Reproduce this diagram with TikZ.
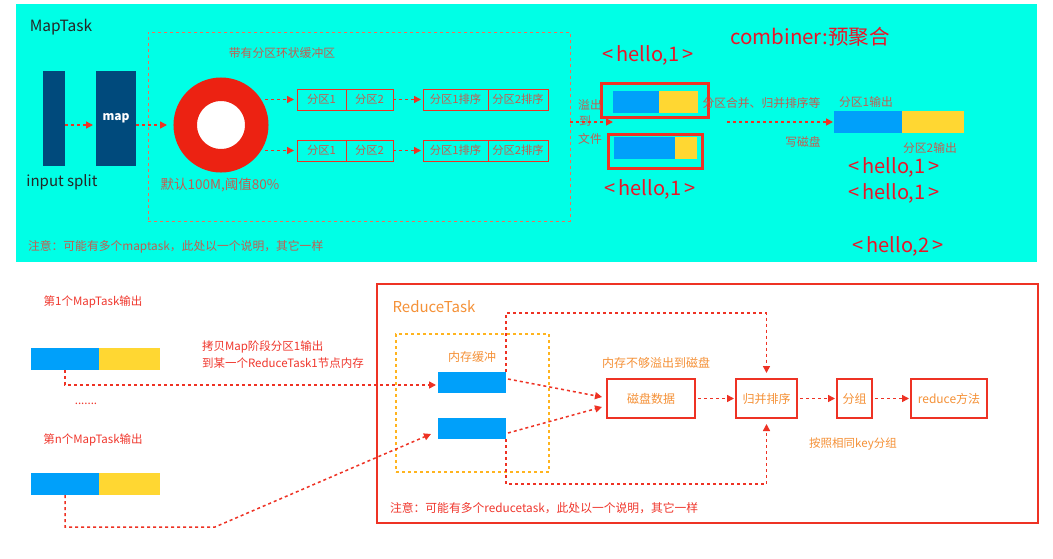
\documentclass[tikz,border=0pt]{standalone}
\usepackage{fontspec}
\setmainfont{Noto Sans CJK SC}
\usetikzlibrary{arrows.meta}
\definecolor{cyanbg}{RGB}{0,255,230}
\definecolor{rline}{RGB}{238,50,36}
\definecolor{mutetxt}{RGB}{196,92,80}
\definecolor{dashsal}{RGB}{240,110,90}
\definecolor{hred}{RGB}{235,20,40}
\definecolor{btxt}{RGB}{240,55,45}
\definecolor{otxt}{RGB}{245,145,55}
\definecolor{ydash}{RGB}{255,180,30}
\definecolor{bblue}{RGB}{0,160,250}
\definecolor{byel}{RGB}{255,215,50}
\definecolor{dblue}{RGB}{0,74,124}
\definecolor{ringred}{RGB}{236,34,18}
\newcommand{\hel}[1]{<\hspace{3pt}hello,#1\hspace{3pt}>}
\begin{document}
\begin{tikzpicture}[x=1pt,y=-1pt,
  every node/.style={inner sep=0pt, outer sep=0pt},
  blu/.style={minimum height=22pt, fill=bblue},
  yel/.style={minimum height=22pt, fill=byel},
  arr/.style={draw=rline, line width=1.5pt, dash pattern=on 3pt off 3pt, -{Triangle[length=7pt,width=7pt]}},
  pbox/.style={draw=rline, line width=0.9pt, minimum height=21pt, font=\fontsize{11.3}{13}\selectfont, text=mutetxt},
  mtxt/.style={text=mutetxt, font=\fontsize{11.8}{14}\selectfont},
  hello/.style={text=hred, font=\fontsize{20}{24}\selectfont},
  cbox/.style={draw=rline, line width=3pt, minimum height=34pt},
  rbox/.style={draw=rline, line width=2pt, minimum height=39pt, text=otxt, font=\fontsize{12}{14}\selectfont},
  btext/.style={text=btxt, font=\fontsize{11.5}{14}\selectfont},
  otext/.style={text=otxt, font=\fontsize{12}{14}\selectfont},
  darkbar/.style={fill=dblue, minimum height=95pt}
]
\useasboundingbox (0,0) rectangle (1053,558);
\fill[white] (0,0) rectangle (1053,558);
% ---------- top: MapTask ----------
\fill[cyanbg] (16,4) rectangle (1037,262);
\node[font=\fontsize{15.5}{18}\selectfont, text=black!85] (mtitle) at (61,27) {MapTask};
\node[darkbar, minimum width=22pt] (insplit) at (54,118.5) {};
\node[darkbar, minimum width=40pt, text=white, font=\bfseries\fontsize{12}{14}\selectfont] (map) at (116,118.5) {map};
\node[font=\fontsize{15}{18}\selectfont, text=black!85] (intxt) at (62,182) {input split};
\draw[arr] ([yshift=-6.5pt]insplit.east) -- ([yshift=-6.5pt,xshift=-3pt]map.west);
\node[draw=dashsal, line width=1pt, dash pattern=on 3pt off 3pt, minimum width=422pt, minimum height=189pt] (buf) at (359,126.5) {};
\node[mtxt] (buftxt) at (282,53) {带有分区环状缓冲区};
\coordinate (ringin) at (167,125);
\draw[arr] ([yshift=-6.5pt]map.east) -- (ringin);
\node[circle, draw=ringred, fill=white, line width=23.5pt, minimum size=71.5pt] (ring) at (221,125) {};
\node[mtxt, font=\fontsize{13.5}{16}\selectfont] (ringtxt) at (220,185) {默认100M,阈值80\%};
% partitions
\node[pbox, minimum width=49pt] (p11) at (321.5,99.5) {分区1};
\node[pbox, minimum width=47pt] (p12) at (369.5,99.5) {分区2};
\node[pbox, minimum width=65pt] (s11) at (455.5,99.5) {分区1排序};
\node[pbox, minimum width=60pt] (s12) at (518,99.5) {分区2排序};
\node[pbox, minimum width=49pt] (p21) at (321.5,150.5) {分区1};
\node[pbox, minimum width=47pt] (p22) at (369.5,150.5) {分区2};
\node[pbox, minimum width=65pt] (s21) at (455.5,150.5) {分区1排序};
\node[pbox, minimum width=60pt] (s22) at (518,150.5) {分区2排序};
\coordinate (r1) at (265,99.5);
\coordinate (r2) at (265,150.5);
\draw[arr] (r1) -- ([xshift=-3pt]p11.west);
\draw[arr] (r2) -- ([xshift=-3pt]p21.west);
\draw[arr] (p12.east) -- ([xshift=-2pt]s11.west);
\draw[arr] (p22.east) -- ([xshift=-2pt]s21.west);
% spill / combiner
\node[text=hred, font=\fontsize{20.5}{24}\selectfont] (comb) at (810,37) {combiner:预聚合};
\node[hello] (h1) at (648,55) {\hel{1}};
\node[cbox, minimum width=107pt] (cb1) at (654.5,100) {};
\node[blu, minimum width=46pt] (bb1) at (636,102) {};
\node[yel, minimum width=39pt] (yb1) at (678.5,102) {};
\node[cbox, minimum width=94pt] (cb2) at (655,151) {};
\node[blu, minimum width=61pt] (bb2) at (644.5,148) {};
\node[yel, minimum width=22pt] (yb2) at (686,148) {};
\node[hello] (h2) at (650,189) {\hel{1}};
\node[mtxt] (spa) at (590,105) {溢出};
\node[mtxt] (spb) at (585,121) {到};
\node[mtxt] (spc) at (590,139) {文件};
\coordinate (spillend) at (613,122);
\draw[arr] ([yshift=4.5pt]buf.east) -- (spillend);
\node[mtxt] (mergetxt) at (761.5,103) {分区合并、归并排序等};
\node[blu, minimum width=68pt] (ob) at (868,122) {};
\node[yel, minimum width=62pt] (oy) at (933,122) {};
\coordinate (mstart) at (727,122);
\draw[arr] (mstart) -- ([xshift=-1pt]ob.west);
\node[mtxt] (wtxt) at (803,142) {写磁盘};
\node[mtxt] (o1txt) at (866,102) {分区1输出};
\node[mtxt] (o2txt) at (930,148) {分区2输出};
\node[hello] (h3) at (894,167) {\hel{1}};
\node[hello] (h4) at (894,193) {\hel{1}};
\node[hello] (h5) at (898,246) {\hel{2}};
\node[mtxt, anchor=west] (note1) at (28,247) {注意：可能有多个maptask，此处以一个说明，其它一样};
% ---------- bottom: ReduceTask ----------
\node[btext] (t1) at (93,302) {第1个MapTask输出};
\node[blu, minimum width=68pt] (o1b) at (65,359) {};
\node[yel, minimum width=61pt] (o1y) at (129.5,359) {};
\node[btext] (dots) at (86,404) {.......};
\node[btext] (tn) at (93,440) {第n个MapTask输出};
\node[blu, minimum width=68pt] (onb) at (65,484) {};
\node[yel, minimum width=61pt] (ony) at (129.5,484) {};
\node[btext, anchor=west] (cp1) at (202,347) {拷贝Map阶段分区1输出};
\node[btext, anchor=west] (cp2) at (202,363) {到某一个ReduceTask1节点内存};
\node[draw=rline, line width=1.3pt, minimum width=661pt, minimum height=239pt] (rt) at (707.5,403.5) {};
\node[text=otxt, font=\fontsize{15}{18}\selectfont] (rttitle) at (434,307) {ReduceTask};
\node[draw=ydash, line width=1.3pt, dash pattern=on 3pt off 3pt, minimum width=153pt, minimum height=138pt] (mem) at (472.5,403) {};
\node[otext] (memtxt) at (472,357) {内存缓冲};
\node[blu, minimum width=68pt, minimum height=21pt] (rb1) at (472,382.5) {};
\node[blu, minimum width=68pt, minimum height=21pt] (rb2) at (472,428.5) {};
\node[otext] (spilltxt) at (656,363) {内存不够溢出到磁盘};
\node[rbox, minimum width=88pt] (dk) at (651,398.5) {磁盘数据};
\node[rbox, minimum width=61pt] (mg) at (766.5,398.5) {归并排序};
\node[rbox, minimum width=35pt] (gp) at (854.5,398.5) {分组};
\node[rbox, minimum width=76pt] (rd) at (949,398.5) {reduce方法};
\node[otext, font=\fontsize{11.5}{14}\selectfont] (keytxt) at (853,444) {按照相同key分组};
\node[text=btxt, font=\fontsize{11.8}{14}\selectfont, anchor=west] (note2) at (390,508) {注意：可能有多个reducetask，此处以一个说明，其它一样};
% connectors
\draw[arr] (o1b.south) |- ([yshift=-2.5pt,xshift=-2pt]rb1.west);
\coordinate (nb) at (215,527);
\draw[arr] (onb.south) |- (nb) -- ([yshift=-5.5pt,xshift=-7pt]rb2.west);
\draw[arr] ([yshift=3.5pt,xshift=2pt]rb1.east) -- ([yshift=1.5pt,xshift=-5pt]dk.west);
\draw[arr] ([yshift=-4.5pt,xshift=2pt]rb2.east) -- ([yshift=-8.5pt,xshift=-5pt]dk.west);
\draw[arr] (rb1.north east) -- ++(0,-59) -| ([yshift=6pt]mg.north);
\draw[arr] (rb2.south east) -- ++(0,45) -| ([yshift=-6pt]mg.south);
\draw[arr] ([xshift=3pt]dk.east) -- ([xshift=-2pt]mg.west);
\draw[arr] ([xshift=3pt]mg.east) -- ([xshift=-2pt]gp.west);
\draw[arr] ([xshift=3pt]gp.east) -- ([xshift=-2pt]rd.west);
\end{tikzpicture}
\end{document}
